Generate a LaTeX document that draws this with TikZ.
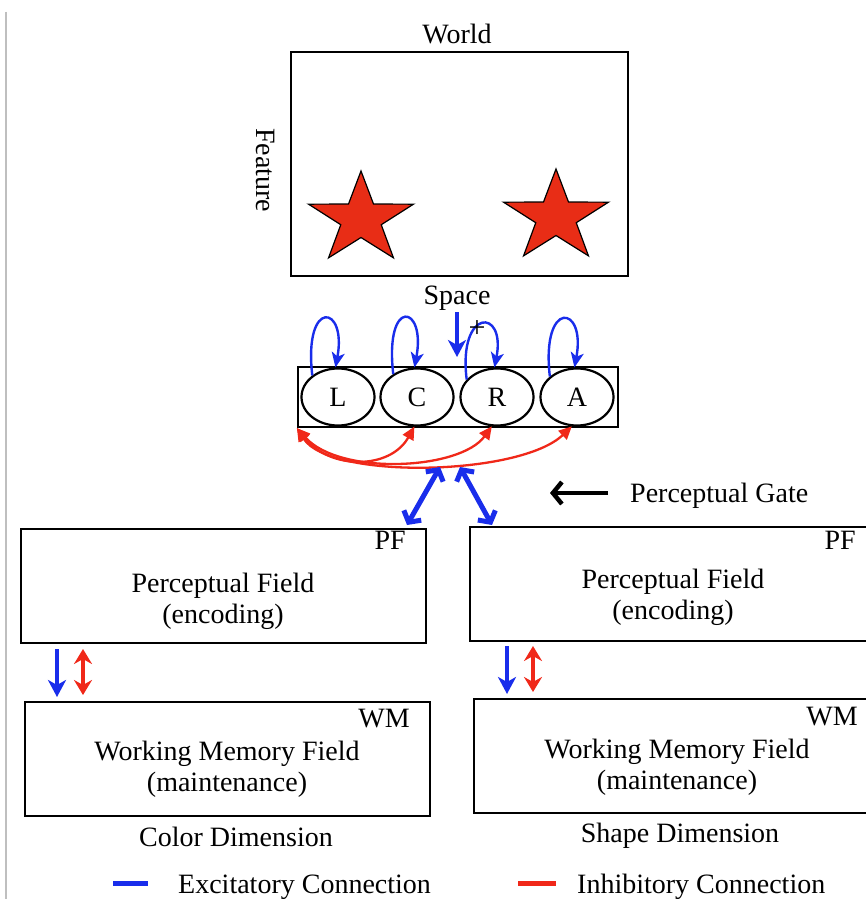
\documentclass[tikz,border=0pt]{standalone}
\usepackage{fontspec}
\setmainfont{Liberation Serif}
\usetikzlibrary{shapes.geometric,arrows.meta,calc}
\definecolor{exblue}{RGB}{25,45,235}
\definecolor{inred}{RGB}{240,40,25}
\definecolor{starred}{RGB}{232,45,22}
\begin{document}
\begin{tikzpicture}[x=1pt,y=-1pt,
  font=\fontsize{28}{31}\selectfont,
  fieldbox/.style={draw, line width=2.2pt, inner sep=0pt},
  unit/.style={draw, ellipse, line width=2.2pt, minimum width=73pt, minimum height=57pt, inner sep=0pt},
  txt/.style={inner sep=2pt, align=center},
  selfloop/.style={exblue, line width=2.4pt, -{Stealth[length=15pt,width=13pt,inset=4pt]}},
  inhib/.style={inred, line width=2.3pt, {Triangle[length=13pt,width=12pt]}-{Triangle[length=13pt,width=12pt]}},
  gatearr/.style={exblue, line width=5pt, {Straight Barb[length=8pt,width=20pt]}-{Straight Barb[length=8pt,width=20pt]}},
  downarr/.style={exblue, line width=4.5pt, -{Stealth[length=17pt,width=18pt,inset=5pt]}},
  dblred/.style={inred, line width=4.5pt, {Stealth[length=15pt,width=18pt,inset=5pt]}-{Stealth[length=15pt,width=18pt,inset=5pt]}},
  starsty/.style={draw=black, line width=1.2pt, fill=starred, line join=miter},
  legline/.style={line width=5pt}
]
\useasboundingbox (0,0) rectangle (866,899);
\fill[white] (0,0) rectangle (866,899);
% faint left border
\draw[black!25, line width=1.2pt] (6,12) -- (6,899);

% World
\node[fieldbox, minimum width=337pt, minimum height=224pt] (world) at (459.5,164) {};
\node[txt, anchor=base] (worldlbl) at (457,44) {World};
\node[txt, rotate=-90] (feature) at (266,170) {Feature};
\node[txt, anchor=base] (space) at (457,304) {Space};

% stars
\begin{scope}[shift={(361,219)}, x=1.15pt, y=1pt]
\draw[starsty] (90:48) -- (126:18.5) -- (162:48) -- (198:18.5) -- (234:48) -- (270:18.5) -- (306:48) -- (342:18.5) -- (18:48) -- (54:18.5) -- cycle;
\end{scope}
\begin{scope}[shift={(556,217)}, x=1.15pt, y=1pt]
\draw[starsty] (90:48) -- (126:18.5) -- (162:48) -- (198:18.5) -- (234:48) -- (270:18.5) -- (306:48) -- (342:18.5) -- (18:48) -- (54:18.5) -- cycle;
\end{scope}

% LCRA
\node[fieldbox, minimum width=320pt, minimum height=60pt] (lcra) at (458,397) {};
\node[unit] (L) at (338,397) {L};
\node[unit] (C) at (417,397) {C};
\node[unit] (R) at (497,397) {R};
\node[unit] (A) at (577,397) {A};

\draw[selfloop] (L.140) .. controls +(-9,-78) and +(12,-63) .. (L.95);
\draw[selfloop] (C.136) .. controls +(-9,-78) and +(12,-63) .. (C.95);
\draw[selfloop] (R.150) .. controls +(-9,-72) and +(12,-60) .. (R.95);
\draw[selfloop] (A.143) .. controls +(-9,-78) and +(12,-63) .. (A.95);

\node[inner sep=0pt, font=\fontsize{30}{32}\selectfont] (plus) at (477,329) {+};

\coordinate (spacetip) at (457,357);
\draw[exblue, line width=4.5pt, -{Stealth[length=17pt,width=18pt,inset=5pt]}] (space.south) -- (spacetip);

% inhibitory arcs
\draw[inhib] (lcra.south west) .. controls (330,470) and (390,470) .. (C.265);
\draw[inhib] (lcra.south west) .. controls (340,476) and (460,470) .. (R.260);
\draw[inhib] (lcra.south west) .. controls (330,480) and (520,476) .. (A.260);

% perceptual gate
\coordinate (g1a) at (440,467);
\coordinate (g1b) at (407,525);
\coordinate (g2a) at (460,467);
\coordinate (g2b) at (492,525);
\draw[gatearr] (g1a) -- (g1b);
\draw[gatearr] (g2a) -- (g2b);
\node[txt, anchor=base west] (gate) at (628,502) {Perceptual Gate};
\coordinate (gatetip) at (550,493);
\draw[black, line width=4.5pt, -{Straight Barb[length=9pt,width=22pt]}] (608,493) -- (gatetip);

% fields
\node[fieldbox, minimum width=405pt, minimum height=114pt] (pfL) at (223.5,586) {};
\node[fieldbox, minimum width=402pt, minimum height=114pt] (pfR) at (671,584) {};
\node[fieldbox, minimum width=405pt, minimum height=114pt] (wmL) at (227.5,759) {};
\node[fieldbox, minimum width=398pt, minimum height=114pt] (wmR) at (673,756) {};

\node[txt, anchor=base east] (pfLl) at (408,549) {PF};
\node[txt, anchor=base east] (pfRl) at (858,549) {PF};
\node[txt, anchor=base east] (wmLl) at (412,727) {WM};
\node[txt, anchor=base east] (wmRl) at (860,725) {WM};

\node[txt] (pfLt) at (223,601) {Perceptual Field\\(encoding)};
\node[txt] (pfRt) at (673,597) {Perceptual Field\\(encoding)};
\node[txt] (wmLt) at (227,769) {Working Memory Field\\(maintenance)};
\node[txt] (wmRt) at (677,767) {Working Memory Field\\(maintenance)};

% PF -> WM connections
\coordinate (aL1) at (57,649); \coordinate (aL2) at (57,697);
\coordinate (bL1) at (83,649); \coordinate (bL2) at (83,695);
\coordinate (aR1) at (507,646); \coordinate (aR2) at (507,694);
\coordinate (bR1) at (533,646); \coordinate (bR2) at (533,692);
\draw[downarr] (aL1) -- (aL2);
\draw[dblred] (bL1) -- (bL2);
\draw[downarr] (aR1) -- (aR2);
\draw[dblred] (bR1) -- (bR2);

% dimension labels
\node[txt, anchor=base] (colordim) at (236,846) {Color Dimension};
\node[txt, anchor=base] (shapedim) at (680,842) {Shape Dimension};

% legend
\coordinate (lb1) at (113,883); \coordinate (lb2) at (148,883);
\coordinate (lr1) at (518,883); \coordinate (lr2) at (556,883);
\draw[legline, exblue] (lb1) -- (lb2);
\draw[legline, inred] (lr1) -- (lr2);
\node[txt, anchor=base west] (exlbl) at (176,893) {Excitatory Connection};
\node[txt, anchor=base west] (inlbl) at (575,893) {Inhibitory Connection};
\end{tikzpicture}
\end{document}
